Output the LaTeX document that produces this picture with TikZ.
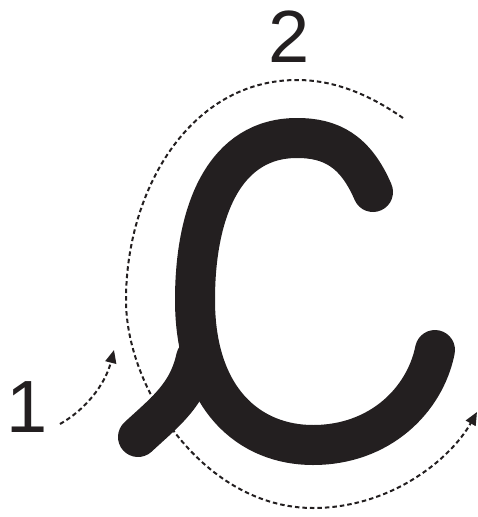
\documentclass[tikz,border=0pt]{standalone}
\usepackage{fontspec}
\setmainfont{Liberation Sans}
\usetikzlibrary{arrows.meta}
\definecolor{ink}{RGB}{35,31,32}
\tikzset{
  letterstroke/.style={draw=ink,line width=40pt,line cap=round},
  guide/.style={draw=ink,line width=2pt,dash pattern=on 4.5pt off 3pt,-{Triangle[length=13pt,width=11pt]}},
  numlabel/.style={text=ink,font=\fontsize{74}{74}\selectfont,inner sep=0pt}
}
\begin{document}
\begin{tikzpicture}[x=1pt,y=-1pt]
\useasboundingbox (0,0) rectangle (478,517);
% labels
\node[numlabel] (one) at (27,407) {1};
\node[numlabel] (two) at (289,37) {2};
% letter C
\draw[letterstroke] (373,192) .. controls (355,150) and (330,138) .. (297,138)
  .. controls (225,138) and (195,210) .. (195,300)
  .. controls (195,400) and (250,445) .. (313,445)
  .. controls (380,445) and (425,400) .. (435,350);
\draw[letterstroke] (138,437) .. controls (165,412) and (188,395) .. (196,358);
% guide arrow 1
\coordinate (s1) at (60,424);
\coordinate (e1) at (114,350);
\draw[guide] (s1) .. controls (85,410) and (105,385) .. (e1);
% guide arrow 2
\coordinate (s2) at (403,118);
\coordinate (e2) at (477,412);
\draw[guide] (s2) .. controls (370,95) and (335,80) .. (297,80)
  .. controls (190,80) and (126,190) .. (126,300)
  .. controls (126,390) and (205,508) .. (313,508)
  .. controls (390,508) and (450,460) .. (e2);
\end{tikzpicture}
\end{document}
